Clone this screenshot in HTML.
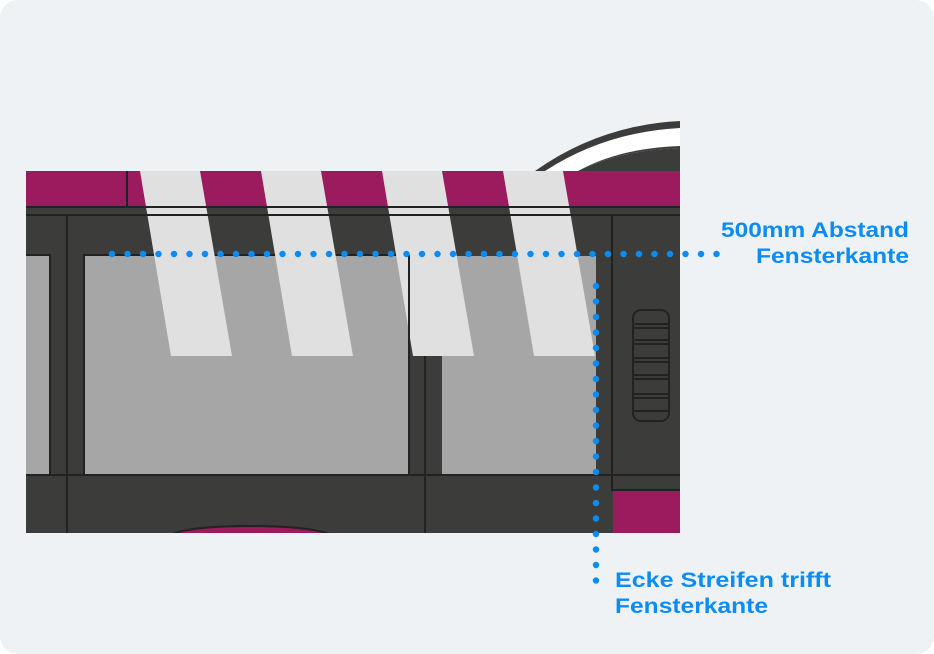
<!DOCTYPE html>
<html><head><meta charset="utf-8"><style>
html,body{margin:0;padding:0;background:#fff;}
svg{display:block}
</style></head><body>
<svg width="934" height="654" viewBox="0 0 934 654" xmlns="http://www.w3.org/2000/svg">
<defs><clipPath id="b"><rect x="26" y="100" width="654" height="433"/></clipPath></defs>
<rect x="0" y="0" width="934" height="654" rx="18" fill="#eef2f5"/>
<g clip-path="url(#b)">
<!-- roof arc -->
<path d="M535 171 Q600 125 680 121 L680 148 Q620 150 578 171 Z" fill="#3c3c3b"/>
<path d="M545 171 Q605 132 680 128 L680 146 Q620 148 578 171 Z" fill="#ffffff"/>
<path d="M578 171 Q620 150 680 148 L680 171 Z" fill="#3c3c3b"/>
<!-- body -->
<rect x="26" y="171" width="654" height="362" fill="#3c3c3b"/>
<rect x="26" y="171" width="654" height="35" fill="#9b1b5e"/>
<!-- windows -->
<rect x="10" y="255" width="40" height="220" fill="#a6a6a6" stroke="#222" stroke-width="2"/>
<rect x="84" y="255" width="325" height="220" fill="#a6a6a6" stroke="#222" stroke-width="2"/>
<rect x="442" y="256" width="154" height="219" fill="#a6a6a6"/>
<!-- bottom magenta -->
<rect x="613" y="491" width="67" height="42" fill="#9b1b5e"/>
<path d="M170 535 Q190 526 250 526 Q310 526 332 535 Z" fill="#9b1b5e" stroke="#222" stroke-width="2"/>
<!-- stripes -->
<g fill="#e0e0e0">
<polygon points="140,171 200,171 232,356 171,356"/>
<polygon points="261,171 321,171 353,356 292,356"/>
<polygon points="382,171 442,171 474,356 413,356"/>
<polygon points="503,171 563,171 595,356 534,356"/>
</g>
<!-- lines -->
<g stroke="#222" stroke-width="2" fill="none">
<line x1="26" y1="207" x2="680" y2="207"/>
<line x1="26" y1="215" x2="680" y2="215"/>
<line x1="127" y1="171" x2="127" y2="206"/>
<line x1="67" y1="215" x2="67" y2="533"/>
<line x1="409" y1="255" x2="409" y2="475"/>
<line x1="425" y1="356" x2="425" y2="533"/>
<line x1="612" y1="215" x2="612" y2="491"/>
<line x1="26" y1="475" x2="680" y2="475"/>
<line x1="612" y1="490" x2="680" y2="490"/>
<rect x="633" y="310" width="36" height="111" rx="8"/>
<line x1="634" y1="324" x2="668" y2="324"/><line x1="634" y1="328" x2="668" y2="328"/>
<line x1="634" y1="340" x2="668" y2="340"/><line x1="634" y1="344" x2="668" y2="344"/>
<line x1="634" y1="358" x2="668" y2="358"/><line x1="634" y1="362" x2="668" y2="362"/>
<line x1="634" y1="375" x2="668" y2="375"/><line x1="634" y1="379" x2="668" y2="379"/>
<line x1="634" y1="394" x2="668" y2="394"/><line x1="634" y1="398" x2="668" y2="398"/>
<line x1="634" y1="411" x2="668" y2="411"/>
</g>
</g>
<!-- dotted -->
<line x1="112" y1="254" x2="732" y2="254" stroke="#0a8cf5" stroke-width="6.5" stroke-linecap="round" stroke-dasharray="0 15.5"/>
<line x1="596" y1="286" x2="596" y2="596" stroke="#0a8cf5" stroke-width="6.5" stroke-linecap="round" stroke-dasharray="0 15.5"/>
<g font-family="Liberation Sans, sans-serif" font-weight="bold" font-size="21" fill="#0a8cf5">
<text x="909" y="237" text-anchor="end" textLength="188" lengthAdjust="spacingAndGlyphs">500mm Abstand</text>
<text x="909" y="263" text-anchor="end" textLength="153" lengthAdjust="spacingAndGlyphs">Fensterkante</text>
<text x="615" y="587" textLength="216" lengthAdjust="spacingAndGlyphs">Ecke Streifen trifft</text>
<text x="615" y="613" textLength="153" lengthAdjust="spacingAndGlyphs">Fensterkante</text>
</g>
</svg>
</body></html>
